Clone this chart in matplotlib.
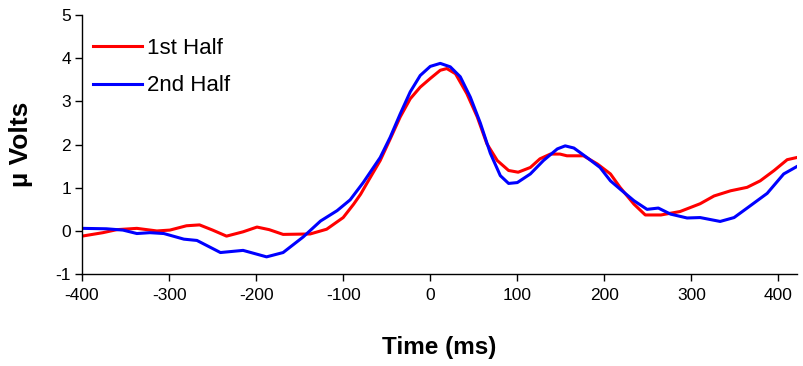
import matplotlib
matplotlib.use("Agg")
import matplotlib.pyplot as plt

plt.rcParams['font.family'] = ['Liberation Sans', 'DejaVu Sans']
plt.rcParams['axes.unicode_minus'] = False

t_first = [-400, -376, -360, -337, -314, -299, -280, -265, -250, -234, -215, -199, -185, -169,
           -138, -119, -100, -88, -80, -70, -57.5, -46, -34.5, -23, -11.5, 0, 11.5, 19, 29, 42,
           54, 65, 77, 90, 101, 115, 126, 138, 149, 157, 176, 192, 207, 218, 234, 247, 265,
           287, 310, 326, 345, 364, 379, 395, 410, 421]
v_first = [-0.12, -0.04, 0.03, 0.06, 0.0, 0.02, 0.12, 0.14, 0.02, -0.12, -0.02, 0.09, 0.03, -0.08,
           -0.07, 0.04, 0.31, 0.62, 0.85, 1.2, 1.63, 2.13, 2.64, 3.06, 3.33, 3.53, 3.72, 3.76, 3.64, 3.18,
           2.64, 2.02, 1.63, 1.40, 1.36, 1.47, 1.67, 1.78, 1.78, 1.74, 1.74, 1.55, 1.32, 1.01, 0.62, 0.37, 0.37,
           0.45, 0.63, 0.81, 0.93, 1.01, 1.16, 1.4, 1.65, 1.7]

t_second = [-400, -372, -353, -337, -322, -306, -283, -268, -241, -215, -188, -169, -146, -126,
            -107, -92, -77, -57.5, -46, -34.5, -23, -11.5, 0, 11.5, 23, 34.5, 46, 57.5, 69, 80.5,
            90, 100, 115, 130, 146, 155, 165, 180, 195, 207, 218, 234, 249, 262, 276, 295, 310,
            333, 349, 364, 387, 406, 421]
v_second = [0.06, 0.05, 0.02, -0.06, -0.04, -0.06, -0.19, -0.22, -0.5, -0.45, -0.6, -0.5, -0.14, 0.23,
            0.47, 0.72, 1.12, 1.70, 2.17, 2.71, 3.22, 3.6, 3.81, 3.88, 3.80, 3.57, 3.10, 2.5, 1.8, 1.28,
            1.10, 1.12, 1.32, 1.63, 1.90, 1.97, 1.92, 1.70, 1.47, 1.16, 0.97, 0.7, 0.5, 0.53, 0.39, 0.3, 0.31,
            0.22, 0.31, 0.53, 0.87, 1.32, 1.49]

x_ticks = [-400, -300, -200, -100, 0, 100, 200, 300, 400]
y_ticks = [-1, 0, 1, 2, 3, 4, 5]

fig = plt.figure(figsize=(8.04, 3.66), dpi=100)
ax = fig.add_axes([0.102, 0.251, 0.889, 0.708])

ax.plot(t_first, v_first, color='#ff0000', lw=2.2, label='1st Half')
ax.plot(t_second, v_second, color='#0000ff', lw=2.2, label='2nd Half')

ax.set_xlim(-400, 421)
ax.set_ylim(-1, 5)
ax.set_xticks(x_ticks)
ax.set_yticks(y_ticks)
ax.tick_params(axis='both', direction='out', labelsize=12.5, length=5, width=1)
ax.tick_params(axis='y', pad=3)
ax.tick_params(axis='x', pad=5)
for s in ['top', 'right']:
    ax.spines[s].set_visible(False)
for s in ['left', 'bottom']:
    ax.spines[s].set_linewidth(1)

ax.set_xlabel('Time (ms)', fontsize=17.5, fontweight='bold', labelpad=24)
ax.set_ylabel('µ Volts', fontsize=19, fontweight='bold', labelpad=16)

ax.legend(loc='upper left', frameon=False, fontsize=16, bbox_to_anchor=(0.015, 0.912),
          handlelength=2.2, handletextpad=0.25, borderaxespad=0.0, borderpad=0.0,
          labelspacing=0.75)

fig.savefig('out.png', dpi=100)
